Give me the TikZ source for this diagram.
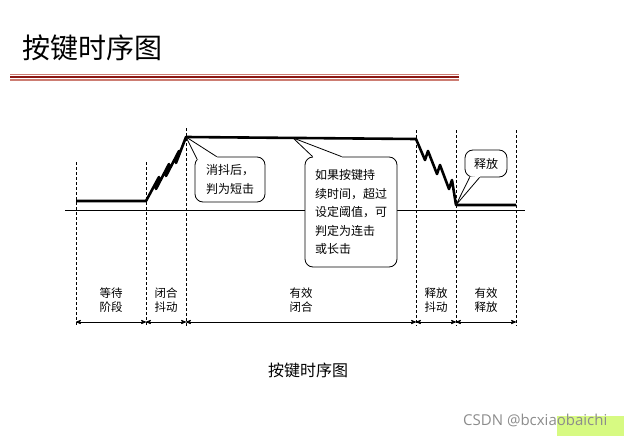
\documentclass[tikz,border=0pt]{standalone}
\usepackage{fontspec}
\setmainfont{Noto Sans CJK SC}
\newfontfamily\wmfont{Open Sans}
\usepackage{tikz}
\usetikzlibrary{arrows}
\usetikzlibrary{calc}
\tikzset{>=stealth'}
\tikzset{
	signal/.style={line width=2.6pt, line join=round},
	phaseline/.style={densely dashed, line width=0.9pt},
	bubble/.style={draw, fill=white, line width=0.8pt, rounded corners=8pt, align=left, inner sep=0pt, font=\fontsize{12}{18.5}\selectfont},
	phaselbl/.style={align=center, font=\fontsize{11.5}{14}\selectfont},
}
\definecolor{barlight}{RGB}{205,125,115}
\definecolor{bardark}{RGB}{140,25,20}
\definecolor{wmgray}{RGB}{140,140,140}
\definecolor{wmgreen}{RGB}{215,250,130}
\newcommand{\pointer}[4]{% {tip}{base a}{base b}{box}
	\fill[white] (#1) -- (#2) -- ($(#2)!1.5pt!(#4.center)$) -- ($(#3)!1.5pt!(#4.center)$) -- (#3) -- cycle; % hide border
	\draw[line width=0.8pt, line join=round] (#2) -- (#1) -- (#3) % pointer sides
}

\begin{document}
\begin{tikzpicture}[x=1pt, y=-1pt]
	\useasboundingbox (0,0) rectangle (624,436);
	% title and bar
	\node[anchor=west, inner sep=0pt, font=\fontsize{28}{30}\selectfont] (title) at (22,48) {按键时序图};
	\draw[barlight, line width=0.8pt] (10,74) -- (459,74);
	\draw[bardark, line width=1.5pt] (10,76.8) -- (459,76.8);
	\draw[barlight, line width=1.5pt] (10,80) -- (459,80);
	% time axis
	\draw[line width=0.6pt] (65,210) -- (525,210);
	% phase borders
	\foreach \x/\top [count=\i] in {76/162,146/162,186/128,416/130,456/130,516/130}{
		\coordinate (t\i) at (\x,\top);
		\coordinate (b\i) at (\x,326);
		\coordinate (a\i) at (\x,322);
		\draw[phaseline] (t\i) -- (b\i);
	}
	\foreach \i/\j in {1/2,2/3,3/4,4/5,5/6}
		\draw[<->, line width=0.8pt] (a\i) -- (a\j);
	% key signal
	\coordinate (s0) at (76,201);
	\coordinate (s1) at (146,201);
	\coordinate (s2) at (186,137);
	\coordinate (s3) at (416,139);
	\coordinate (s4) at (456,205);
	\coordinate (s5) at (516,205);
	\coordinate (holdtip) at ($(s2)!0.465!(s3)$);
	\draw[signal] (s0) -- (s1) -- (159,177) -- (156,189) -- (169,164) -- (166,176) -- (179,151) -- (176,163) -- (s2)
		-- (s3) -- (425,160) -- (428,151) -- (437,174) -- (440,165) -- (449,189) -- (452,180) -- (s4) -- (s5);
	% callouts
	\node[bubble, minimum width=70pt, minimum height=45pt] (short) at (230,179.5) {消抖后，\\判为短击};
	\pointer{s2}{$(short.north west)+(2.3,2.3)$}{$(short.north west)+(22,0)$}{short};
	\node[bubble, minimum width=92pt, minimum height=110pt] (long) at (351,212) {如果按键持\\续时间，超过\\设定阈值，可\\判定为连击\\或长击};
	\pointer{holdtip}{$(long.north west)+(8,0)$}{$(long.north west)+(37,0)$}{long};
	\node[bubble, align=center, minimum width=42pt, minimum height=27pt] (rel) at (486,163.5) {释放};
	\pointer{s4}{$(rel.south west)+(5,0)$}{$(rel.south west)+(15,0)$}{rel};
	% phase labels
	\node[phaselbl] (wait) at ($(a1)!0.5!(a2)+(0,-22)$) {等待\\阶段};
	\node[phaselbl] (pbounce) at ($(a2)!0.5!(a3)+(0,-22)$) {闭合\\抖动};
	\node[phaselbl] (closed) at ($(a3)!0.5!(a4)+(0,-22)$) {有效\\闭合};
	\node[phaselbl] (rbounce) at ($(a4)!0.5!(a5)+(0,-22)$) {释放\\抖动};
	\node[phaselbl] (opened) at ($(a5)!0.5!(a6)+(0,-22)$) {有效\\释放};
	% caption and watermark
	\node[font=\fontsize{16}{18}\selectfont] (caption) at (308,370) {按键时序图};
	\fill[wmgreen] (557,416) rectangle (624,436);
	\node[anchor=west, inner sep=0pt, text=wmgray, font=\wmfont\fontsize{15}{17}\selectfont] (mark) at (463,420) {CSDN @bcxiaobaichi};
\end{tikzpicture}
\end{document}
